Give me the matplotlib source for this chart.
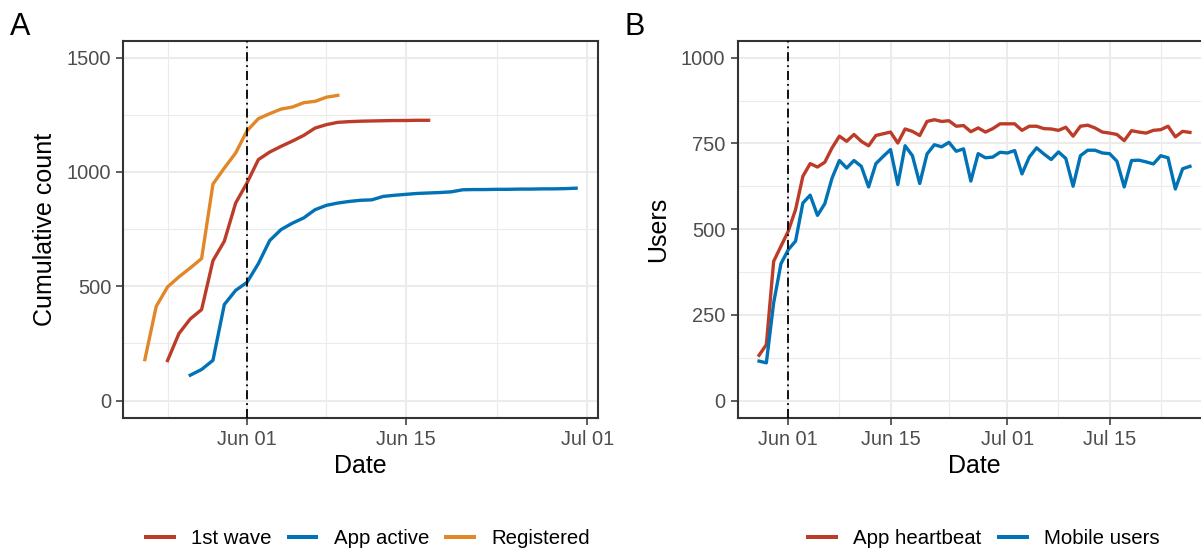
import numpy as np
import pandas as pd
import matplotlib
matplotlib.use("Agg")
import matplotlib.pyplot as plt
import matplotlib.dates as mdates
from matplotlib.lines import Line2D

plt.rcParams['font.family'] = ['Liberation Sans', 'DejaVu Sans']

# ---------------- data ----------------
# Panel A (cumulative counts)
registered_start = "2020-05-23"
registered = [179, 412, 497, 541, 580, 621, 947, 1017, 1083, 1180, 1233, 1255,
              1275, 1284, 1303, 1309, 1327, 1335]
wave1_start = "2020-05-25"
wave1 = [175, 293, 357, 398, 612, 697, 864, 952, 1054, 1087, 1112, 1135, 1160,
         1192, 1207, 1217, 1220, 1222, 1223, 1224, 1225, 1225, 1226, 1226]
app_active_start = "2020-05-27"
app_active = [111, 136, 176, 420, 482, 517, 599, 700, 748, 776, 799, 835, 854,
              864, 871, 876, 878, 893, 898, 902, 906, 908, 910, 913, 922, 923,
              923, 924, 924, 925, 925, 926, 926, 927, 929]

# Panel B (daily users)
users_start = "2020-05-28"
heartbeat = [132, 163, 406, 450, 494, 557, 654, 691, 681, 695, 737, 771, 756,
             776, 756, 743, 773, 778, 783, 751, 792, 785, 773, 814, 819, 814,
             816, 800, 802, 784, 795, 783, 793, 807, 807, 807, 788, 800, 800,
             793, 792, 788, 797, 771, 800, 803, 795, 783, 780, 776, 758, 787,
             783, 780, 788, 790, 800, 769, 785, 782]
mobile = [115, 110, 285, 399, 440, 465, 576, 599, 540, 574, 649, 700, 678, 700,
          683, 623, 691, 712, 732, 630, 743, 714, 633, 719, 746, 740, 753, 727,
          734, 640, 720, 708, 710, 724, 722, 729, 661, 710, 737, 719, 703, 725,
          706, 625, 714, 730, 730, 722, 720, 698, 623, 700, 701, 696, 690, 714,
          708, 617, 676, 683]

vline_date = "2020-06-01"
a_ticks = ["2020-06-01", "2020-06-15", "2020-07-01"]
a_minor = ["2020-05-25", "2020-06-08", "2020-06-23"]
b_ticks = ["2020-06-01", "2020-06-15", "2020-07-01", "2020-07-15"]
b_minor = ["2020-06-08", "2020-06-23", "2020-07-08", "2020-07-22"]

RED = "#BC3C29"
BLUE = "#0072B5"
ORANGE = "#E18727"

def dates(start, n):
    return pd.date_range(start, periods=n, freq="D")

# ---------------- figure ----------------
W, H = 1201, 550
fig = plt.figure(figsize=(W / 100, H / 100), dpi=100)

def px_axes(x0, x1, y0, y1):
    return fig.add_axes([x0 / W, 1 - y1 / H, (x1 - x0) / W, (y1 - y0) / H])

axA = px_axes(123.3, 597.7, 40.5, 417.7)
axB = px_axes(737.5, 1211.5, 40.5, 417.7)

LW = 2.4
GRID = "#EBEBEB"
BORDER = "#333333"

def style(ax, xticks, xminor, yticks, yminor):
    ax.set_xticks(pd.to_datetime(xticks))
    ax.set_xticks(pd.to_datetime(xminor), minor=True)
    ax.xaxis.set_major_formatter(mdates.DateFormatter("%b %d"))
    ax.set_yticks(yticks)
    ax.set_yticks(yminor, minor=True)
    ax.grid(which="major", color=GRID, linewidth=1.5, zorder=0)
    ax.grid(which="minor", color=GRID, linewidth=0.8, zorder=0)
    ax.set_axisbelow(True)
    for s in ax.spines.values():
        s.set_color(BORDER)
        s.set_linewidth(1.5)
    ax.tick_params(which="major", direction="out", length=4.7, width=1.1,
                   color=BORDER, labelsize=14.4, labelcolor="#4D4D4D", pad=4)
    ax.tick_params(which="minor", length=0)
    ax.set_xlabel("Date", fontsize=18, labelpad=4)

def vline(ax):
    ax.axvline(pd.to_datetime(vline_date), color="black", linewidth=1.3,
               linestyle=(0, (5, 2.2, 1, 2.2)), zorder=3)

# Panel A
axA.plot(dates(wave1_start, len(wave1)), wave1, color=RED, lw=LW, zorder=2)
axA.plot(dates(app_active_start, len(app_active)), app_active, color=BLUE, lw=LW, zorder=2)
axA.plot(dates(registered_start, len(registered)), registered, color=ORANGE, lw=LW, zorder=2)
vline(axA)
d0 = mdates.date2num(pd.Timestamp(vline_date))
axA.set_xlim(d0 - 10.9, d0 + 30.9)
axA.set_ylim(-75, 1575)
style(axA, a_ticks, a_minor, [0, 500, 1000, 1500], [250, 750, 1250])
axA.set_ylabel("Cumulative count", fontsize=18, labelpad=7)

# Panel B
axB.plot(dates(users_start, len(heartbeat)), heartbeat, color=RED, lw=LW, zorder=2)
axB.plot(dates(users_start, len(mobile)), mobile, color=BLUE, lw=LW, zorder=2)
vline(axB)
axB.set_xlim(d0 - 6.95, d0 + 57.95)
axB.set_ylim(-50, 1050)
style(axB, b_ticks, b_minor, [0, 250, 500, 750, 1000], [125, 375, 625, 875])
axB.set_ylabel("Users", fontsize=18, labelpad=8)

# Panel labels
fig.text(20 / W, 1 - 27 / H, "A", fontsize=22, ha="center", va="center")
fig.text(635 / W, 1 - 27 / H, "B", fontsize=22, ha="center", va="center")

# Legends
def legend(items, cx):
    handles = [Line2D([], [], color=c, lw=LW * 1.2) for _, c in items]
    labels = [l for l, _ in items]
    fig.legend(handles, labels, loc="center", bbox_to_anchor=(cx / W, 1 - 538.5 / H),
               ncol=len(items), frameon=False, fontsize=14.7, handlelength=1.35,
               handletextpad=0.85, columnspacing=0.85, borderpad=0, borderaxespad=0)

legend([("1st wave", RED), ("App active", BLUE), ("Registered", ORANGE)], 368)
legend([("App heartbeat", RED), ("Mobile users", BLUE)], 984)

fig.savefig("out.png", dpi=100)
